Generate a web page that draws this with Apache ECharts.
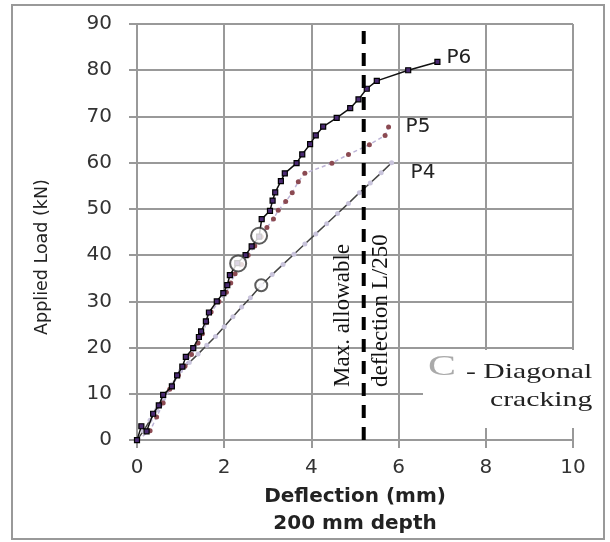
<!DOCTYPE html>
<html>
<head>
<meta charset="utf-8">
<script src="https://cdn.jsdelivr.net/npm/echarts@6/dist/echarts.min.js"></script>
<style>
  html, body { margin: 0; padding: 0; background: #fff; }
  #chart { width: 610px; height: 542px; }
</style>
</head>
<body>
<div id="chart"></div>
<script>
// load-deflection curves, 200 mm depth
const p6X = [0, 0.1, 0.22, 0.37, 0.5, 0.6, 0.8, 0.92, 1.04, 1.12, 1.29, 1.42, 1.47, 1.58, 1.65, 1.83, 1.98, 2.07, 2.13, 2.3, 2.49, 2.63, 2.8, 2.86, 3.05, 3.11, 3.17, 3.3, 3.39, 3.66, 3.79, 3.97, 4.1, 4.27, 4.58, 4.89, 5.08, 5.27, 5.5, 6.22, 6.89]
const p6Y = [0, 3, 1.9, 5.7, 7.5, 9.8, 11.6, 14, 15.9, 18, 19.9, 22.3, 23.5, 25.7, 27.6, 30, 31.8, 33.5, 35.7, 38.3, 40, 41.9, 44, 47.8, 49.6, 51.8, 53.6, 56, 57.7, 59.9, 61.8, 64, 65.9, 67.8, 69.7, 71.8, 73.7, 76, 77.7, 80, 81.8]

const p5X = [0, 0.3, 0.45, 0.6, 0.75, 0.95, 1.1, 1.25, 1.4, 1.5, 1.6, 1.7, 1.88, 2.05, 2.15, 2.25, 2.4, 2.55, 2.7, 2.85, 2.98, 3.13, 3.24, 3.41, 3.56, 3.7, 3.85, 4.47, 4.85, 5.33, 5.69, 5.77]
const p5Y = [0, 2, 5, 8, 11, 14, 16, 18.5, 21, 23, 25.5, 27.7, 30, 32, 34, 36, 38, 40, 42, 44, 46, 47.8, 49.7, 51.6, 53.5, 55.9, 57.7, 59.9, 61.8, 63.9, 65.9, 67.7]

const p4X = [0, 0.15, 0.3, 0.45, 0.6, 0.8, 1.0, 1.2, 1.4, 1.6, 1.8, 2.0, 2.2, 2.4, 2.6, 2.85, 3.1, 3.35, 3.6, 3.85, 4.1, 4.35, 4.6, 4.85, 5.1, 5.35, 5.6, 5.84]
const p4Y = [0, 2, 4.3, 6.5, 9, 12, 15, 16.8, 18.6, 20.5, 22.4, 24.5, 26.7, 28.8, 30.8, 33.5, 35.8, 38, 40.2, 42.4, 44.6, 46.8, 49, 51.2, 53.5, 55.6, 57.8, 60]

// diagonal cracking points (open circles)
const crackX = [2.32, 2.8, 2.85]
const crackY = [38.2, 44.2, 33.5]
const crackSize = [16, 16, 12]

// max allowable deflection L/250
const limitX = 5.2
const limitY = [0, 91]

const xTicks = [0, 2, 4, 6, 8, 10]
const yMax = 90

const zip = (xs, ys) => xs.map((x, i) => [x, ys[i]])

const chart = echarts.init(document.getElementById('chart'))

const sans = '"DejaVu Sans", sans-serif'
const serif = '"Liberation Serif", "DejaVu Serif", serif'

const option = {
  animation: false,
  grid: { left: 137, right: 37, top: 24, bottom: 95 },
  xAxis: {
    type: 'value',
    min: xTicks[0],
    max: xTicks[xTicks.length - 1],
    interval: 2,
    name: 'Deflection (mm)\n200 mm depth',
    nameLocation: 'middle',
    nameGap: 34,
    nameTextStyle: { fontFamily: sans, fontSize: 20, fontWeight: 'bold', color: '#222', lineHeight: 27 },
    axisLine: { show: true, lineStyle: { color: '#999', width: 2 } },
    axisTick: { show: true, length: 8, lineStyle: { color: '#999', width: 2 } },
    axisLabel: { margin: 18, fontFamily: sans, fontSize: 20, color: '#333' },
    splitLine: { show: true, lineStyle: { color: '#999', width: 2 } }
  },
  yAxis: {
    type: 'value',
    min: 0,
    max: yMax,
    interval: 10,
    axisLine: { show: true, lineStyle: { color: '#999', width: 2 } },
    axisTick: { show: true, length: 8, lineStyle: { color: '#999', width: 2 } },
    axisLabel: { margin: 25, fontFamily: sans, fontSize: 20, color: '#333' },
    splitLine: { show: true, lineStyle: { color: '#999', width: 2 } }
  },
  graphic: [
    {
      type: 'rect',
      shape: { x: 12, y: 5, width: 592, height: 534 },
      style: { fill: 'none', stroke: '#999', lineWidth: 2 },
      z: 0
    },
    {
      type: 'text',
      x: 42, y: 257,
      rotation: Math.PI / 2,
      style: { text: 'Applied Load (kN)', font: '17.5px ' + sans, fill: '#222', align: 'center', verticalAlign: 'middle' },
      z: 60
    },
    {
      type: 'rect',
      shape: { x: 423, y: 350, width: 176, height: 78 },
      style: { fill: '#fff' },
      z: 50
    },
    {
      type: 'text',
      x: 428, y: 367, scaleX: 1.4,
      style: { text: 'C', font: '30px ' + serif, fill: '#aaa', verticalAlign: 'middle' },
      z: 60
    },
    {
      type: 'text',
      x: 466, y: 372, scaleX: 1.35,
      style: { text: '- Diagonal', font: '22px ' + serif, fill: '#222', verticalAlign: 'middle' },
      z: 60
    },
    {
      type: 'text',
      x: 490, y: 400, scaleX: 1.35,
      style: { text: 'cracking', font: '22px ' + serif, fill: '#222', verticalAlign: 'middle' },
      z: 60
    },
    {
      type: 'text',
      x: 343, y: 387,
      rotation: Math.PI / 2,
      style: { text: 'Max. allowable', font: '23px ' + serif, fill: '#111', verticalAlign: 'middle' },
      z: 60
    },
    {
      type: 'text',
      x: 381, y: 387,
      rotation: Math.PI / 2,
      style: { text: 'deflection L/250', font: '23px ' + serif, fill: '#111', verticalAlign: 'middle' },
      z: 60
    }
  ],
  series: [
    {
      name: 'P4',
      type: 'line',
      data: zip(p4X, p4Y),
      symbol: 'circle',
      symbolSize: 5,
      itemStyle: { color: '#c9c4dc' },
      lineStyle: { color: '#444', width: 1.5 },
      endLabel: { show: true, formatter: 'P4', offset: [11, 10], fontFamily: sans, fontSize: 20, color: '#222' },
      z: 3
    },
    {
      name: 'P5',
      type: 'line',
      data: zip(p5X, p5Y),
      symbol: 'circle',
      symbolSize: 5,
      itemStyle: { color: '#8b4a52' },
      lineStyle: { color: '#bcb3d6', width: 1.5, type: [4, 3] },
      endLabel: { show: true, formatter: 'P5', offset: [9, 0], fontFamily: sans, fontSize: 20, color: '#222' },
      z: 4
    },
    {
      name: 'P6',
      type: 'line',
      data: zip(p6X, p6Y),
      symbol: 'rect',
      symbolSize: 5,
      itemStyle: { color: '#4a2a72', borderColor: '#000', borderWidth: 1.2 },
      lineStyle: { color: '#111', width: 1.5 },
      endLabel: { show: true, formatter: 'P6', offset: [1, -4], fontFamily: sans, fontSize: 20, color: '#222' },
      z: 5
    },
    {
      name: 'Diagonal cracking',
      type: 'scatter',
      data: zip(crackX, crackY).map((d, i) => ({ value: d, symbolSize: crackSize[i] })),
      symbol: 'circle',
      itemStyle: { color: '#fff', borderColor: '#333', borderWidth: 2 },
      z: 6
    },
    {
      name: 'L/250',
      type: 'line',
      data: limitY.map(y => [limitX, y]),
      symbol: 'none',
      lineStyle: { color: '#000', width: 4, type: [13, 9] },
      z: 7
    }
  ]
}

chart.setOption(option)
</script>
</body>
</html>
